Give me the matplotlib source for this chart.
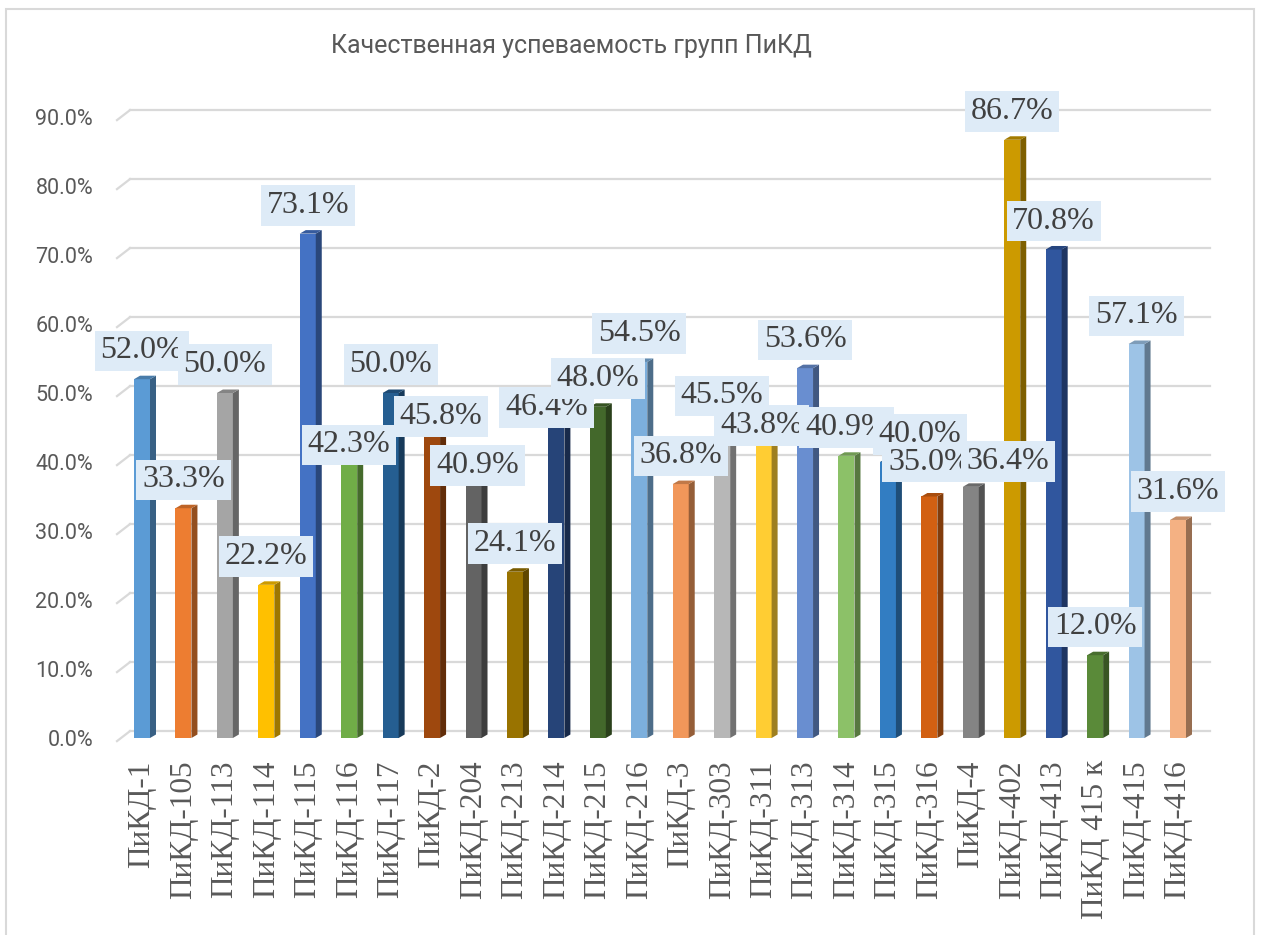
import numpy as np
import matplotlib
matplotlib.use('Agg')
import matplotlib.pyplot as plt
from matplotlib.patches import Rectangle
from matplotlib.colors import to_rgb

groups = ['ПиКД-1', 'ПиКД-105', 'ПиКД-113', 'ПиКД-114', 'ПиКД-115', 'ПиКД-116',
          'ПиКД-117', 'ПиКД-2', 'ПиКД-204', 'ПиКД-213', 'ПиКД-214', 'ПиКД-215',
          'ПиКД-216', 'ПиКД-3', 'ПиКД-303', 'ПиКД-311', 'ПиКД-313', 'ПиКД-314',
          'ПиКД-315', 'ПиКД-316', 'ПиКД-4', 'ПиКД-402', 'ПиКД-413', 'ПиКД 415 к',
          'ПиКД-415', 'ПиКД-416']
values = [52.0, 33.3, 50.0, 22.2, 73.1, 42.3, 50.0, 45.8, 40.9, 24.1, 46.4, 48.0,
          54.5, 36.8, 45.5, 43.8, 53.6, 40.9, 40.0, 35.0, 36.4, 86.7, 70.8, 12.0,
          57.1, 31.6]
yticks = [0, 10, 20, 30, 40, 50, 60, 70, 80, 90]
title = 'Качественная успеваемость групп ПиКД'

# excel "colorful" palette, one colour per bar
colors = ['#5B9BD5', '#ED7D31', '#A5A5A5', '#FFC000', '#4472C4', '#70AD47',
          '#255E91', '#9E480E', '#636363', '#997300', '#264478', '#43682B',
          '#7CAFDD', '#F1975A', '#B7B7B7', '#FFCD33', '#698ED0', '#8CC168',
          '#327DC2', '#D26012', '#848484', '#CC9A00', '#30569E', '#5A8A39',
          '#9DC3E6', '#F4B183']

# manual nudges of some data labels (pixels, +x right, +y down)
label_dx = [0, 0, 0, 0, 0, 0, 0, 9, 4, 0, -10, 0, 0, 0, 0, -2, 0, 0, 32, 0, 37, 0, 0, 0, 0, 0]
label_dy = [0, 0, 0, 0, 0, 27, 0, 23, 38, 0, 18, 0, 0, 0, 0, 18, 0, 0, 1, -6, 3, 0, 0, 0, 0, 0]

W, H = 1263, 935
fig = plt.figure(figsize=(W / 100, H / 100), dpi=100)

# pixel layout: category 0 centre at x=142, 41.44 px per category,
# value 0 at y=738, 6.9 px per percent
X0, XS = 142, 41.44
Y0, YS = 738, 6.9
left, right, bottom, top = 100, 1230, 745, 60
ax = fig.add_axes([left / W, 1 - bottom / H, (right - left) / W, (bottom - top) / H])
ax.set_xlim((left - X0) / XS, (right - X0) / XS)
ax.set_ylim((Y0 - bottom) / YS, (Y0 - top) / YS)
for s in ax.spines.values():
    s.set_visible(False)

x = np.arange(len(groups))
hw = 8 / XS      # half width of front face
sdx = 6 / XS     # depth of side face
sdy = 3.5 / YS

# 3d-ish gridlines: back wall line plus small floor stub on the left
gx0, gx1, gfx = (130 - X0) / XS, (1210 - X0) / XS, (117 - X0) / XS
for v in yticks:
    ax.plot([gx0, gx1], [v + 1.0, v + 1.0], color='#D9D9D9', lw=1.6, zorder=1)
    ax.plot([gfx, gx0], [v - 0.45, v + 1.0], color='#D9D9D9', lw=1.6, zorder=1)

ax.bar(x, values, width=2 * hw, color=colors, zorder=3)
for i in range(len(x)):
    v = values[i]
    c = np.array(to_rgb(colors[i]))
    side = c * 0.62
    topc = c * 0.8
    ax.fill([i + hw, i + hw + sdx, i + hw + sdx, i + hw],
            [0, sdy, v + sdy, v], color=side, lw=0, zorder=3)
    ax.fill([i - hw, i + hw, i + hw + sdx, i - hw + sdx],
            [v, v, v + sdy, v + sdy], color=topc, lw=0, zorder=3)

fs_lab = 23
pad = 0.18
pad_px = pad * fs_lab * 100 / 72
for i in range(len(x)):
    ax.annotate('%.1f%%' % values[i], xy=(x[i], values[i]),
                xytext=(label_dx[i], 8 + pad_px - label_dy[i]), textcoords='offset pixels',
                ha='center', va='bottom', fontsize=fs_lab, family='Liberation Serif',
                color='#404040', zorder=10 + i,
                bbox=dict(boxstyle='square,pad=%.2f' % pad, fc='#DEEBF7', ec='none'))

ax.set_yticks(yticks)
ax.set_yticklabels(['%.1f%%' % v for v in yticks], fontsize=15.5, family='Roboto', color='#595959')
ax.set_xticks(x)
ax.set_xticklabels(groups, rotation=90, fontsize=22.5, family='Liberation Serif', color='#595959')
ax.tick_params(axis='y', length=0, pad=5)
ax.tick_params(axis='x', length=0, pad=11)

fig.text(571 / W, 1 - 53 / H, title, ha='center', va='baseline', fontsize=18,
         family='Roboto', color='#595959')

fig.patches.append(Rectangle((6 / W, -0.01), (1254 - 6) / W, 1 - 9 / H + 0.01,
                             transform=fig.transFigure, fill=False, ec='#D9D9D9', lw=1.5))

fig.savefig('out.png', dpi=100)
